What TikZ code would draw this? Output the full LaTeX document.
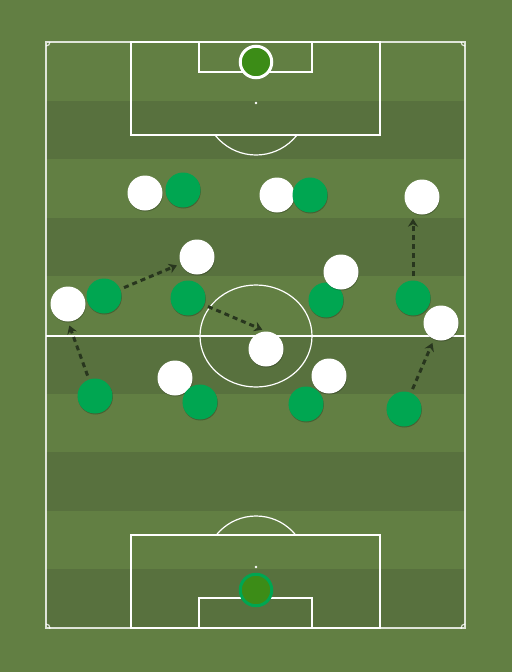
\documentclass[tikz,border=0pt]{standalone}
\usepackage{xcolor}
\usetikzlibrary{arrows.meta}
\usetikzlibrary{positioning}
\usetikzlibrary{shadows}
\definecolor{grassA}{HTML}{627F43}
\definecolor{grassB}{HTML}{58713E}
\definecolor{kitgreen}{HTML}{00A651}
\definecolor{gkgreen}{HTML}{3C8C17}
\definecolor{rundark}{HTML}{28361E}
\tikzset{
	line/.style={white, line width=1.2pt},
	pshadow/.style={drop shadow={shadow xshift=0.4pt, shadow yshift=-1pt, opacity=0.25, fill=black}},
	home/.style={circle, fill=kitgreen, minimum size=35pt, inner sep=0pt, pshadow},
	away/.style={circle, fill=white, minimum size=35pt, inner sep=0pt, pshadow},
	run/.style={rundark, line width=3pt, dash pattern=on 5pt off 4pt, -{Stealth[length=8pt,width=10pt]}, shorten <=4pt, shorten >=4pt}
}

\begin{document}
\begin{tikzpicture}[x=1pt, y=-1pt]
			% background and stripes
			\fill[grassA] (0,0) rectangle (512,672);
			\useasboundingbox (0,0) rectangle (512,672);
			\foreach \i in {1,3,5,7,9}
				\fill[grassB] (46,{42+\i*58.6}) rectangle (465,{42+(\i+1)*58.6});
			
			% pitch lines
			\draw[line, opacity=0.8] (46,42) rectangle (465,628);
			\draw[line] (46,336) -- (465,336);
			\draw[line] (256,336) ellipse (56pt and 51pt);
			\draw[line] (131,42) rectangle (380,135);
			\draw[line] (199,42) rectangle (312,72);
			\draw[line] (131,535) rectangle (380,628);
			\draw[line] (199,598) rectangle (312,628);
			\fill[white] (256,103) circle (1.3pt);
			\fill[white] (256,567) circle (1.3pt);
			% penalty arcs
			\begin{scope}
				\clip (0,135) rectangle (512,300);
				\draw[line] (256,103) circle (52pt);
			\end{scope}
			\begin{scope}
				\clip (0,400) rectangle (512,535);
				\draw[line] (256,567) circle (51pt);
			\end{scope}
			% corners
			\begin{scope}
				\clip (46,42) rectangle (465,628);
				\foreach \cx/\cy in {46/42,465/42,46/628,465/628}
					\draw[line, opacity=0.8] (\cx,\cy) circle (4pt);
			\end{scope}
			
			% keepers
			\node[circle, fill=gkgreen, draw=white, line width=3pt, minimum size=31.5pt, inner sep=0pt, pshadow] (wk) at (256,62) {};
			\node[circle, fill=gkgreen, draw=kitgreen, line width=3pt, minimum size=31.5pt, inner sep=0pt, pshadow] (gk) at (256,590) {};
			
			% players
			\node[away] (w1) at (145,193) {};
			\node[away] (w2) at (277,195) {};
			\node[away] (w3) at (422,197) {};
			\node[away] (w4) at (197,257) {};
			\node[away] (w5) at (68,304) {};
			\node[away] (w6) at (266,349) {};
			\node[away] (w7) at (175,378) {};
			\node[away] (w8) at (329,376) {};
			\node[home] (g1) at (183,190) {};
			\node[home] (g2) at (310,195) {};
			\node[home] (g3) at (104,296) {};
			\node[home] (g4) at (188,298) {};
			\node[home] (g5) at (326,300) {};
			\node[home] (g6) at (413,298) {};
			\node[home] (g7) at (95,396) {};
			\node[home] (g8) at (200,402) {};
			\node[home] (g9) at (306,404) {};
			\node[home] (g10) at (404,409) {};
			\node[away] (w9) at (341,272) {};
			\node[away] (w10) at (441,323) {};
			
			% runs
			\draw[run] (g7) -- (w5.south);
			\draw[run] (g3) -- (w4);
			\draw[run] (g4) -- (w6.north);
			\draw[run] (g6) -- (g6 |- w3.south);
			\draw[run] (g10) -- (w10);
		\end{tikzpicture}
\end{document}
